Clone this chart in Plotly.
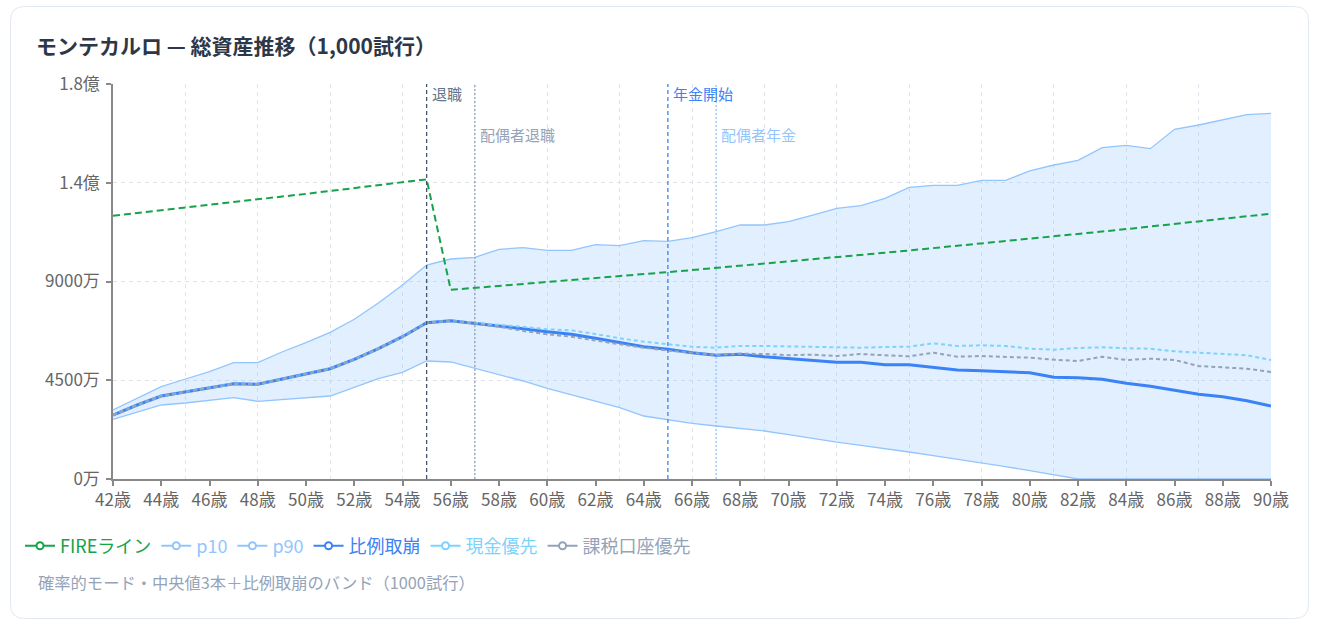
import plotly.graph_objects as go

ages = list(range(42, 91))

fire_line = [12000, 12120, 12241, 12364, 12487, 12612, 12738, 12866, 12994, 13124, 13256, 13388, 13522, 13657,
             8620, 8706, 8793, 8881, 8970, 9060, 9150, 9242, 9334, 9428, 9522, 9617, 9713, 9810, 9909, 10008,
             10108, 10209, 10311, 10414, 10518, 10623, 10730, 10837, 10945, 11055, 11165, 11277, 11390, 11504,
             11619, 11735, 11852, 11971, 12090]

p90 = [3144, 3680, 4206, 4557, 4890, 5300, 5300, 5787, 6211, 6685, 7278, 8020, 8841, 9752,
       10025, 10103, 10467, 10540, 10422, 10422, 10677, 10632, 10859, 10832, 10996, 11270, 11575, 11575,
       11725, 12030, 12336, 12454, 12791, 13293, 13384, 13384, 13612, 13612, 14036, 14309, 14523, 15097,
       15207, 15052, 15936, 16132, 16373, 16601, 16665]

p10 = [2720, 3053, 3372, 3463, 3568, 3705, 3541, 3614, 3691, 3782, 4179, 4571, 4862, 5377,
       5332, 5045, 4739, 4466, 4133, 3828, 3541, 3249, 2871, 2689, 2538, 2415, 2310, 2187,
       2019, 1846, 1677, 1536, 1399, 1230, 1062, 902, 743, 561, 378, 182, 0, 0,
       0, 0, 0, 0, 0, 0, 0]

proportional = [2916, 3372, 3782, 3965, 4133, 4343, 4316, 4557, 4785, 5026, 5455, 5938, 6485, 7123,
                7214, 7095, 6986, 6849, 6712, 6594, 6412, 6229, 6029, 5910, 5756, 5637, 5683, 5573,
                5478, 5391, 5318, 5318, 5209, 5209, 5072, 4967, 4935, 4876, 4844, 4634, 4616, 4543,
                4361, 4224, 4056, 3860, 3750, 3568, 3327]

cash_first = [2916, 3372, 3782, 3965, 4133, 4343, 4316, 4557, 4785, 5026, 5455, 5938, 6485, 7123,
              7214, 7132, 7050, 6936, 6822, 6776, 6608, 6412, 6257, 6152, 6029, 5983, 6061, 6061,
              6047, 6015, 6001, 5983, 6015, 6029, 6184, 6061, 6093, 6061, 5938, 5892, 5970, 6001,
              5956, 5938, 5819, 5756, 5683, 5637, 5423]

taxable_first = [2916, 3372, 3782, 3965, 4133, 4343, 4316, 4557, 4785, 5026, 5455, 5938, 6485, 7123,
                 7214, 7063, 6940, 6744, 6594, 6485, 6302, 6138, 5983, 5847, 5756, 5651, 5710, 5696,
                 5642, 5664, 5605, 5696, 5637, 5591, 5756, 5573, 5605, 5573, 5528, 5437, 5377, 5573,
                 5423, 5482, 5423, 5149, 5090, 5026, 4876]

y_tickvals = [0, 4500, 9000, 13500, 18000]
y_ticktext = ["0万", "4500万", "9000万", "1.4億", "1.8億"]

events = [
    (55, "退職", "#475569", "#64748b", "4px,3px", 0.977),
    (57, "配偶者退職", "#94a3b8", "#94a3b8", "2px,2px", 0.871),
    (65, "年金開始", "#3b82f6", "#3b82f6", "4px,3px", 0.977),
    (67, "配偶者年金", "#93c5fd", "#93c5fd", "2px,2px", 0.871),
]

FONT = "Noto Sans CJK JP, Noto Sans, sans-serif"

C_FIRE = "#16a34a"
C_BAND = "#93c5fd"
C_PROP = "#3b82f6"
C_CASH = "#7dd3fc"
C_TAX = "#94a3b8"
C_GRID = "#dfe4ec"

fig = go.Figure()

# invisible trace so the 3-year grid axis renders
fig.add_trace(go.Scatter(x=[None], y=[None], xaxis="x2", yaxis="y", showlegend=False,
                         hoverinfo="skip", mode="lines"))

# band
fig.add_trace(go.Scatter(x=ages, y=p10, mode="lines", line=dict(color=C_BAND, width=1.3),
                         showlegend=False, hoverinfo="skip"))
fig.add_trace(go.Scatter(x=ages, y=p90, mode="lines", line=dict(color=C_BAND, width=1.3),
                         fill="tonexty", fillcolor="rgba(147,197,253,0.28)",
                         showlegend=False, hoverinfo="skip"))
fig.add_trace(go.Scatter(x=ages, y=fire_line, mode="lines",
                         line=dict(color=C_FIRE, width=2, dash="7px,4px"), showlegend=False))
fig.add_trace(go.Scatter(x=ages, y=proportional, mode="lines",
                         line=dict(color=C_PROP, width=3), showlegend=False))
fig.add_trace(go.Scatter(x=ages, y=cash_first, mode="lines",
                         line=dict(color=C_CASH, width=2, dash="4px,3px"), showlegend=False))
fig.add_trace(go.Scatter(x=ages, y=taxable_first, mode="lines",
                         line=dict(color=C_TAX, width=2, dash="4px,3px"), showlegend=False))

# legend entries
legend_items = [("FIREライン", C_FIRE), ("p10", C_BAND), ("p90", C_BAND),
                ("比例取崩", C_PROP), ("現金優先", C_CASH), ("課税口座優先", C_TAX)]
for name, c in legend_items:
    fig.add_trace(go.Scatter(
        x=[None], y=[None], mode="lines+markers",
        name=f'<span style="color:{c}">{name}</span>',
        line=dict(color=c, width=2),
        marker=dict(symbol="circle", size=7, color="white", line=dict(color=c, width=2)),
    ))

shapes = []
annotations = []
for xv, label, lc, tc, dash, ly in events:
    shapes.append(dict(type="line", xref="x", yref="paper", x0=xv, x1=xv, y0=0, y1=1,
                       line=dict(color=lc, width=1.3, dash=dash), layer="above"))
    annotations.append(dict(x=xv, y=ly, xref="x", yref="paper", text=label, showarrow=False,
                            xanchor="left", yanchor="middle", xshift=3,
                            font=dict(size=15, color=tc, family=FONT)))

# card border (rounded rect) in paper coords
L, R, T, B = 113, 47, 84, 148
W, H = 1318, 627
pw, ph = W - L - R, H - T - B
def px2x(px):
    return (px - L) / pw
def py2y(py):
    return (H - B - py) / ph
x0, x1 = px2x(10.5), px2x(1308.5)
y0, y1 = py2y(618.5), py2y(6.5)
rx, ry = 14 / pw, 14 / ph
path = (f"M {x0+rx},{y1} L {x1-rx},{y1} Q {x1},{y1} {x1},{y1-ry} L {x1},{y0+ry} "
        f"Q {x1},{y0} {x1-rx},{y0} L {x0+rx},{y0} Q {x0},{y0} {x0},{y0+ry} "
        f"L {x0},{y1-ry} Q {x0},{y1} {x0+rx},{y1} Z")
shapes.append(dict(type="path", xref="paper", yref="paper", path=path,
                   line=dict(color="#e2e8f0", width=1), layer="below"))

annotations.append(dict(x=px2x(36), y=py2y(582), xref="paper", yref="paper",
                        text="確率的モード・中央値3本＋比例取崩のバンド（1000試行）",
                        showarrow=False, xanchor="left", yanchor="middle",
                        font=dict(size=16.3, color="#94a3b8", family=FONT)))

fig.update_layout(
    width=W, height=H,
    margin=dict(l=L, r=R, t=T, b=B, pad=0),
    paper_bgcolor="white", plot_bgcolor="white",
    font=dict(family=FONT, color="#666666"),
    title=dict(text="<b>モンテカルロ — 総資産推移（1,000試行）</b>", xref="container", yref="container",
               x=36 / W, y=1 - 47 / H, xanchor="left", yanchor="middle",
               font=dict(size=21, color="#2d3748", family=FONT)),
    showlegend=True,
    legend=dict(orientation="h", x=px2x(20), y=py2y(546), xanchor="left", yanchor="middle",
                font=dict(size=18, family=FONT), bgcolor="rgba(0,0,0,0)", itemwidth=30,
                traceorder="normal", tracegroupgap=0),
    xaxis=dict(range=[42, 90], tickmode="linear", tick0=42, dtick=2, ticksuffix="歳",
               showgrid=False, zeroline=False, showline=True, linecolor="#888888", linewidth=1.5,
               ticks="outside", ticklen=5, tickcolor="#888888", tickwidth=1.5,
               tickfont=dict(size=17, color="#666666", family=FONT)),
    xaxis2=dict(range=[42, 90], overlaying="x", anchor="y", side="bottom", tickmode="linear",
                tick0=42, dtick=3, showgrid=True, gridcolor=C_GRID, griddash="4px,4px",
                gridwidth=1, showticklabels=False, ticks="", showline=False, zeroline=False),
    yaxis=dict(range=[0, 18000], tickmode="array", tickvals=y_tickvals, ticktext=y_ticktext,
               showgrid=True, gridcolor=C_GRID, griddash="4px,4px", gridwidth=1,
               zeroline=False, showline=True, linecolor="#888888", linewidth=1.5,
               ticks="outside", ticklen=5, tickcolor="#888888", tickwidth=1.5,
               ticklabelstandoff=3,
               tickfont=dict(size=17, color="#666666", family=FONT)),
    shapes=shapes,
    annotations=annotations,
)

fig.write_html("out.html")
